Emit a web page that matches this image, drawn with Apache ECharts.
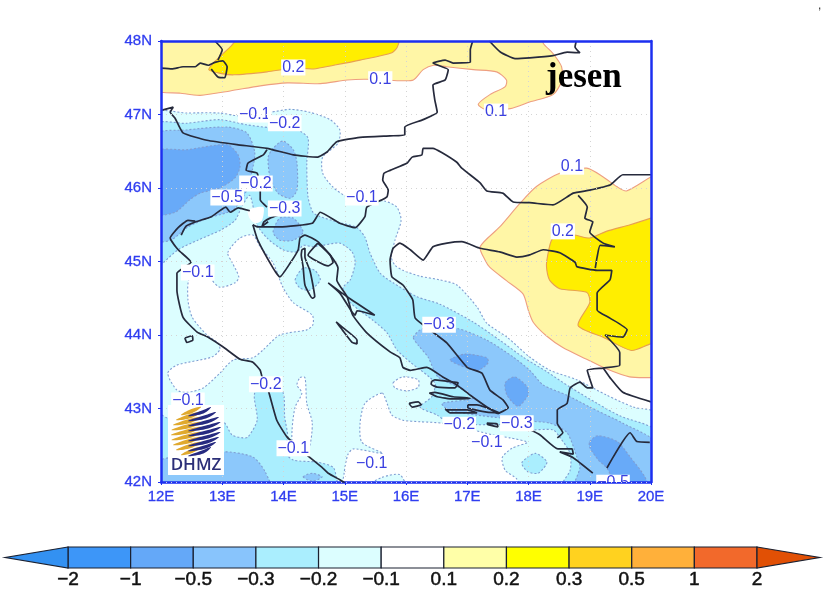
<!DOCTYPE html>
<html>
<head>
    <meta charset="utf-8" />
    <title>jesen</title>
    <script src="https://cdn.jsdelivr.net/npm/echarts@6/dist/echarts.min.js"></script>
    <style>
        html, body { margin: 0; padding: 0; background: #fff; }
        #chart1 { width: 824px; height: 594px; }
    </style>
</head>
<body>
    <div id="chart1"></div>
    <script type="text/javascript">
        // colour bar
        var barLabels = ['\u22122', '\u22121', '\u22120.5', '\u22120.3', '\u22120.2', '\u22120.1', '0.1', '0.2', '0.3', '0.5', '1', '2'];
        var barColors = ['#3d96f8', '#64a8f8', '#88c4fc', '#aaeefe', '#dcfeff', '#ffffff', '#ffffa8', '#ffff00', '#ffd21f', '#ffb03a', '#f2692b'];
        var tipColors = ['#3391f2', '#e15005'];

        // contour polygons, [lon, lat]
        var posTop1 = [[11.9,47.34],[12.32,47.29],[12.64,47.26],[13.13,47.32],[13.62,47.39],[14.06,47.43],[14.6,47.42],[15.04,47.47],[15.36,47.48],[15.9,47.46],[16.12,47.47],[16.28,47.61],[16.45,47.67],[16.66,47.65],[17.1,47.61],[17.48,47.58],[17.64,47.47],[17.62,47.38],[17.37,47.27],[17.18,47.14],[17.29,47.07],[17.7,47.08],[18.02,47.17],[18.4,47.27],[18.54,47.45],[18.54,47.65],[18.4,47.83],[18.24,47.97],[18.21,48.1],[11.9,48.1]];
        var posTop2 = [[12.78,47.61],[12.89,47.73],[13.13,47.92],[13.3,48.05],[15.88,48.05],[15.86,47.92],[15.77,47.84],[15.25,47.74],[14.82,47.67],[14.49,47.62],[14.17,47.63],[13.73,47.58],[13.19,47.54],[12.97,47.56]];
        var posEast1 = [[17.21,45.2],[17.53,45.47],[17.86,45.79],[18.13,46.02],[18.51,46.2],[18.95,46.27],[19.22,46.15],[19.44,46.02],[19.6,45.96],[20,46.15],[20.1,46.18],[20.1,43.42],[20,43.42],[19.65,43.43],[19.27,43.54],[18.95,43.67],[18.56,43.83],[18.29,43.99],[18.08,44.17],[18,44.33],[17.91,44.56],[17.64,44.74],[17.37,44.92],[17.29,45.02]];
        var posEast2 = [[20.1,45.62],[20,45.59],[19.66,45.5],[19.27,45.41],[19,45.32],[18.73,45.36],[18.4,45.32],[18.3,45.02],[18.3,44.88],[18.35,44.74],[18.51,44.63],[18.95,44.58],[19,44.44],[18.81,44.13],[19.22,43.97],[19.68,43.79],[20,43.88],[20.1,43.86]];

        var negOuter = [[11.9,47.01],[12.42,47.02],[12.96,47.02],[13.29,46.98],[13.78,47.03],[14.11,47.07],[14.43,47.03],[14.76,46.93],[14.92,46.79],[14.89,46.61],[14.64,46.42],[14.64,46.2],[14.81,46.01],[15.04,45.88],[15.36,45.84],[15.66,45.82],[15.85,45.74],[15.92,45.56],[15.82,45.29],[15.76,45.06],[15.82,44.95],[15.95,44.88],[16.23,44.8],[16.55,44.75],[16.83,44.68],[17.16,44.38],[17.32,44.16],[17.65,43.97],[18.02,43.7],[18.35,43.52],[18.79,43.39],[19.28,43.18],[19.71,43.02],[20.1,42.93],[20.1,41.9],[11.9,41.9]];
        var holeAdriatic = [[13.09,45.12],[13.29,45.32],[13.5,45.36],[13.62,45.2],[13.83,44.98],[13.99,44.65],[14.16,44.44],[14.47,44.27],[14.48,44.14],[14.38,44.07],[13.94,44],[13.67,43.8],[13.5,43.69],[13.18,43.66],[12.96,43.48],[12.69,43.28],[12.44,43.22],[12.26,43.25],[12.11,43.48],[12.26,43.59],[12.83,43.7],[12.96,43.8],[12.93,43.89],[12.75,44],[12.51,44.24],[12.44,44.48],[12.47,44.78],[12.8,44.83],[12.83,44.75],[12.96,44.65],[13.21,44.71],[13.27,44.79],[13.16,44.99]];
        var holeStrip = [[14.27,43.42],[14.35,43.42],[14.38,43.07],[14.47,42.8],[14.4,42.44],[14.16,42.48],[14.14,42.71],[14.19,43.02],[14.3,43.21],[14.22,43.32]];
        var holeSouth = [[15.61,43.21],[15.69,43.07],[15.77,42.91],[15.95,42.84],[16.23,42.82],[16.6,42.8],[17,42.73],[17.42,42.64],[17.7,42.6],[17.98,42.54],[17.73,42.46],[17.57,42.33],[17.62,42.16],[17.81,42.04],[17.86,41.9],[14.99,41.9],[14.99,42.12],[15.05,42.37],[15.14,42.45],[15.62,42.39],[15.28,42.54],[15.25,42.8],[15.33,43.07]];
        var holeOval = [[15.79,43.35],[15.95,43.43],[16.2,43.39],[16.2,43.29],[16.02,43.24],[15.82,43.28]];
        var stripBottom = [[15.28,41.9],[15.6,42.06],[15.9,42.1],[16,41.9]];

        var neg2North = [[11.9,46.86],[12.42,46.88],[12.96,46.93],[13.4,46.86],[13.78,46.82],[14.22,46.79],[14.4,46.68],[14.38,46.34],[14.4,45.88],[14.48,45.67],[14.6,45.61],[14.87,45.54],[15.2,45.46],[15.33,45.33],[15.41,45.12],[15.58,44.84],[15.79,44.71],[16.18,44.52],[16.55,44.42],[17.09,44.18],[17.53,43.93],[17.91,43.7],[18.3,43.5],[18.68,43.29],[19.12,43.07],[19.49,42.9],[20.1,42.68],[20.1,41.9],[18.56,41.9],[18.56,41.99],[18.68,42.16],[18.68,42.39],[18.51,42.61],[18.4,42.71],[17.98,42.71],[17.53,42.78],[17.16,42.78],[16.67,42.82],[16.51,42.91],[16.23,43.02],[16.42,43.16],[16.47,43.35],[16.07,43.63],[15.85,43.8],[15.69,44.03],[15.46,44.2],[15.09,44.44],[14.97,44.64],[15.09,44.75],[15.17,44.98],[15.12,45.13],[14.92,45.25],[14.64,45.22],[14.48,45.2],[14.32,45.22],[14.22,45.13],[13.99,45.16],[13.73,45.32],[13.57,45.5],[13.45,45.9],[13.31,45.73],[13.21,45.56],[12.98,45.43],[12.6,45.29],[12.28,45.16],[12.03,44.98],[11.9,44.9]];
        var neg2Pag = [[14.19,44.75],[14.32,44.91],[14.51,44.88],[14.6,44.75],[14.43,44.61],[14.27,44.64]];
        var neg2Blob = [[17.89,42.26],[18.11,42.39],[18.3,42.27],[18.16,42.12],[17.99,42.14]];
        var neg2South = [[11.9,42.95],[12.11,42.87],[13.01,42.82],[13.16,42.64],[13.34,42.6],[13.42,42.61],[13.57,42.84],[13.53,43.21],[13.78,43.28],[13.99,43.22],[14.02,42.88],[14.07,42.6],[13.99,42.44],[14.16,42.3],[14.55,42.27],[14.81,42.2],[14.87,42.03],[14.89,41.9],[11.9,41.9]];

        var neg3North = [[11.9,46.72],[12.42,46.79],[13.08,46.83],[13.4,46.75],[13.53,46.49],[13.49,46.24],[13.4,45.97],[13.31,45.84],[13.18,45.7],[13.06,45.66],[12.77,45.59],[12.44,45.47],[12.16,45.29],[11.9,45.29]];
        var neg3Friuli = [[13.75,46.42],[13.83,46.54],[13.99,46.64],[14.16,46.52],[14.22,46.34],[14.22,45.97],[14.11,45.86],[13.91,45.93],[13.78,46.15]];
        var neg3Kvarner = [[13.83,45.4],[13.94,45.59],[14.16,45.59],[14.32,45.4],[14.16,45.29],[13.94,45.29]];
        var neg3Dalmatia = [[16.12,43.97],[16.28,44.09],[16.83,44.09],[17.32,43.93],[17.75,43.7],[18.02,43.52],[18.24,43.32],[18.63,43.18],[19,43.02],[19.54,42.8],[20.1,42.52],[20.1,41.9],[18.76,41.9],[18.76,42],[18.84,42.2],[18.79,42.34],[18.63,42.67],[18.35,42.8],[17.98,42.83],[17.16,42.91],[16.69,42.98],[16.59,43.07],[17.09,43.14],[16.88,43.28],[16.52,43.43],[16.36,43.7],[16.2,43.86]];
        var neg3Corner = [[11.9,42.27],[13.01,42.41],[13.5,42.34],[13.7,42.14],[13.78,41.9],[11.9,41.9]];
        var neg3Small = [[14.32,42.07],[14.47,42.12],[14.63,42.07],[14.47,42.01]];

        var neg5North = [[11.9,46.49],[12.42,46.52],[13.08,46.59],[13.26,46.45],[13.29,46.29],[13.21,46.14],[12.96,46],[12.64,45.93],[12.47,45.84],[12.23,45.67],[11.9,45.65]];
        var neg5BlobA = [[16.72,43.66],[16.96,43.74],[17.32,43.69],[17.34,43.62],[17.18,43.52],[17,43.55]];
        var neg5BlobB = [[17.62,43.35],[17.78,43.43],[17.98,43.29],[17.99,43.18],[17.83,43.03],[17.65,43.18]];
        var neg5BlobC = [[19,42.55],[19.13,42.63],[19.45,42.55],[19.66,42.34],[19.9,42.07],[19.95,41.9],[19.49,41.9],[19.28,42.19],[19.14,42.3],[19,42.47]];
        var whiteIstria = [[13.42,45.7],[13.67,45.74],[13.65,45.56],[13.54,45.52],[13.45,45.58]];

        // coast and borders, [lon, lat]
        var lineBavaria = [[12,47.63],[12.18,47.62],[12.36,47.65],[12.56,47.65],[12.64,47.7],[12.77,47.67],[12.88,47.71],[13.01,47.73],[13.08,47.65],[13.04,47.5],[12.93,47.51],[12.82,47.62]];
        var lineInn = [[12.88,48],[13,47.88],[12.93,47.74]];
        var lineAustria = [[17.09,48],[17.05,47.88],[17.05,47.71],[16.77,47.7],[16.64,47.74],[16.44,47.7],[16.69,47.61],[16.64,47.47],[16.44,47.4],[16.47,47.2],[16.51,47.03],[16.28,46.93],[15.98,46.83],[15.98,46.72],[15.74,46.71],[15.25,46.69],[14.87,46.63],[14.71,46.49],[14.55,46.42],[14.16,46.45],[13.73,46.54],[13.24,46.59],[12.75,46.65],[12.36,46.75],[12.23,46.95],[12.15,47.03],[12.2,47.1],[12.02,47.06]];
        var lineSlovakia = [[17.36,48],[17.54,47.85],[17.78,47.76],[18.02,47.77],[18.4,47.8],[18.63,47.85],[18.84,47.84],[18.76,47.92],[18.78,48]];
        var lineDrava = [[20,46.18],[19.54,46.18],[19.33,46.04],[19,45.97],[18.73,45.93],[18.4,45.77],[18.02,45.8],[17.75,45.81],[17.58,45.93],[17.32,45.96],[17.21,46.07],[16.91,46.27],[16.83,46.35],[16.59,46.48],[16.44,46.54],[16.28,46.54],[16.26,46.45],[16.1,46.42],[16.02,46.34],[15.74,46.24],[15.64,46.2],[15.62,46.11],[15.71,45.97],[15.69,45.88],[15.61,45.84],[15.36,45.74],[15.33,45.61],[15.17,45.46],[14.92,45.52],[14.6,45.67],[14.47,45.52],[13.94,45.47],[13.58,45.47],[13.5,45.5]];
        var lineBosnia = [[17.5,42.93],[17.67,43.01],[17.58,43.12],[17.37,43.25],[17.24,43.48],[17,43.56],[16.67,43.89],[16.42,44.05],[16.15,44.23],[16.11,44.48],[15.95,44.68],[15.77,44.79],[15.74,45.02],[15.79,45.18],[15.9,45.25],[16.07,45.16],[16.28,45.02],[16.44,45.2],[16.67,45.25],[16.91,45.27],[17.21,45.18],[17.53,45.13],[17.81,45.06],[18.02,45.09],[18.24,45.16],[18.51,45.12],[18.76,44.99],[18.79,44.93],[19.12,44.88],[19.36,44.88],[19.33,44.75],[19.12,44.57],[19.12,44.34],[19.33,44.23],[19.61,44.07],[19.54,43.97],[19.25,44],[19.49,43.76],[19.49,43.59],[19.22,43.55],[18.96,43.52],[19.05,43.28],[18.96,43.28],[18.84,43.36],[18.68,43.28],[18.63,43.07],[18.47,42.98],[18.47,42.8],[18.56,42.67],[18.47,42.6]];
        var lineSerbia = [[18.81,45.9],[18.96,45.74],[18.92,45.59],[19.05,45.54],[19,45.4],[19.22,45.25],[19.41,45.2],[19.17,45.22],[19.12,45.06],[19.09,44.91]];
        var lineSerbiaSouth = [[19.22,43.55],[19.33,43.42],[19.54,43.22],[20,43.09]];
        var lineMontenegro = [[19.28,42.19],[19.66,42.67],[19.77,42.55],[19.98,42.54]];
        var lineCoastSouth = [[17.98,42.73],[18.19,42.64],[18.48,42.45],[18.71,42.45],[18.73,42.38],[18.51,42.41],[18.73,42.33],[19.05,42.12]];
        var lineItaly = [[13.45,45.69],[13.26,45.73],[13.13,45.67],[13.06,45.74],[12.82,45.61],[12.57,45.54],[12.41,45.48],[12.33,45.36]];
        var lineItalyEast = [[12.56,45.55],[12.44,45.56],[12.28,45.46],[12.15,45.32],[12.28,45.16],[12.49,44.99],[12.26,44.84],[12.26,44.61],[12.36,44.24],[12.59,44.04],[12.77,43.97],[13.01,43.84],[13.29,43.67],[13.5,43.63],[13.62,43.52],[13.65,43.43],[13.75,43.25],[13.89,42.84],[14.06,42.61],[14.35,42.39],[14.64,42.19],[14.73,42.12],[14.92,42.03],[15,41.99]];
        var lineSlovenia = [[13.73,46.52],[13.67,46.45],[13.42,46.34],[13.39,46.24],[13.57,46.2],[13.62,45.97],[13.62,45.84],[13.73,45.74]];
        var lineTrieste = [[13.91,45.63],[13.78,45.59],[13.68,45.54],[13.65,45.48],[13.75,45.54]];
        var lineCoastEast = [[13.5,45.5],[13.58,45.29],[13.83,44.91],[13.94,44.79],[14.11,44.98],[14.24,45.16],[14.27,45.32],[14.35,45.36],[14.56,45.27],[14.76,45.09],[14.89,44.91],[14.87,44.75],[15.04,44.52],[15.13,44.27],[15.36,44.03],[15.74,43.77],[15.9,43.69],[15.95,43.56],[16.07,43.52],[16.34,43.56],[16.6,43.43],[16.83,43.32],[17.05,43.18],[17.32,43.02],[17.5,42.93]];
        var isleCres = [[14.3,45.16],[14.35,45.18],[14.35,45.06],[14.43,44.88],[14.48,44.68],[14.51,44.52],[14.47,44.5],[14.35,44.68],[14.32,44.93],[14.29,45.09],[14.3,45.16]];
        var isleKrk = [[14.56,45.25],[14.4,45.09],[14.73,44.94],[14.81,44.99],[14.76,45.09],[14.56,45.25]];
        var islePag = [[14.73,44.71],[15.04,44.52],[15.49,44.27],[15.2,44.33],[15.17,44.27],[15.12,44.31],[14.92,44.57],[14.73,44.71]];
        var isleDugi = [[14.86,44.18],[14.97,44.1],[15.2,43.93],[15.2,43.88],[15.12,43.9],[14.96,44.07],[14.86,44.18]];
        var isleBrac = [[16.42,43.37],[16.47,43.39],[16.77,43.36],[16.85,43.35],[16.8,43.28],[16.51,43.29],[16.41,43.33],[16.42,43.37]];
        var isleHvar = [[16.38,43.21],[16.47,43.22],[16.77,43.16],[17.05,43.14],[16.77,43.13],[16.51,43.16],[16.38,43.21]];
        var isleVis = [[16.05,43.07],[16.2,43.09],[16.25,43.05],[16.1,43.02],[16.05,43.07]];
        var isleKorcula = [[16.64,42.99],[16.72,42.94],[17.16,42.94],[17,42.98],[16.69,42.98],[16.64,42.99]];
        var islePeljesac = [[17.01,43.05],[17.16,43.05],[17.53,42.94],[17.32,42.95],[17.01,43.01],[17.01,43.05]];
        var isleMljet = [[17.32,42.8],[17.49,42.79],[17.5,42.75],[17.34,42.78],[17.32,42.8]];
        var isleElafiti = [[17.67,42.72],[17.75,42.71]];
        var islePalagruza = [[12.39,43.96],[12.51,43.99],[12.52,43.93],[12.42,43.9],[12.39,43.96]];

        // contour labels
        var labelLons = [14.16, 15.58, 17.47, 18.71, 18.56, 13.53, 14.02, 13.55, 13.08, 14.02, 15.28, 12.6, 16.54, 13.71, 12.44, 14.16, 15.44, 16.87, 17.81, 17.32, 19.38];
        var labelLats = [47.64, 47.48, 47.04, 46.29, 45.41, 47.0, 46.88, 46.06, 45.87, 45.72, 45.87, 44.85, 44.14, 43.33, 43.11, 42.46, 42.25, 42.78, 42.8, 42.53, 41.99];
        var labelTexts = ['0.2', '0.1', '0.1', '0.1', '0.2', '\u22120.1', '\u22120.2', '\u22120.2', '\u22120.5', '\u22120.3', '\u22120.1', '\u22120.1', '\u22120.3', '\u22120.2', '\u22120.1', '\u22120.1', '\u22120.1', '\u22120.2', '\u22120.3', '\u22120.1', '\u22120.5'];

        var lonMin = 12, lonMax = 20, latMin = 42, latMax = 48;
        var blue = '#1c2ff0';
        var dashColor = '#7f9dd2';
        var posColor = '#ee9f80';

        // painter order, outermost band first
        var layers = [
            { polys: [posTop1, posEast1], fill: '#fff6a6', stroke: posColor, dash: null },
            { polys: [posTop2, posEast2], fill: '#ffee00', stroke: '#e8a050', dash: null },
            { polys: [negOuter], fill: '#dcfeff', stroke: dashColor, dash: [2, 2] },
            { polys: [holeAdriatic, holeStrip, holeSouth, holeOval], fill: '#ffffff', stroke: dashColor, dash: [2, 2] },
            { polys: [stripBottom], fill: '#dcfeff', stroke: dashColor, dash: [2, 2] },
            { polys: [neg2North, neg2Pag, neg2Blob, neg2South], fill: '#aaeefe', stroke: dashColor, dash: [2, 2] },
            { polys: [neg3North, neg3Friuli, neg3Kvarner, neg3Dalmatia, neg3Corner, neg3Small], fill: '#8cc8fb', stroke: dashColor, dash: [2, 2] },
            { polys: [neg5North, neg5BlobA, neg5BlobB, neg5BlobC], fill: '#68aaf8', stroke: dashColor, dash: [2, 2] },
            { polys: [whiteIstria], fill: '#ffffff', stroke: null, dash: null }
        ];
        var lines = [lineBavaria, lineInn, lineAustria, lineSlovakia, lineDrava, lineBosnia, lineSerbia, lineSerbiaSouth, lineMontenegro, lineCoastSouth, lineItaly, lineItalyEast, lineSlovenia, lineTrieste, lineCoastEast, isleCres, isleKrk, islePag, isleDugi, isleBrac, isleHvar, isleVis, isleKorcula, islePeljesac, isleMljet, isleElafiti, islePalagruza];

        var series = [];
        layers.forEach(function (layer) {
            series.push({
                type: 'custom',
                coordinateSystem: 'cartesian2d',
                xAxisIndex: 0,
                yAxisIndex: 0,
                clip: true,
                silent: true,
                z: 2,
                data: layer.polys.map(function (p, i) { return [i]; }),
                renderItem: function (params, api) {
                    var pts = layer.polys[params.dataIndex].map(function (p) { return api.coord(p); });
                    return {
                        type: 'polygon',
                        shape: { points: pts, smooth: 0.25 },
                        style: { fill: layer.fill, stroke: layer.stroke, lineWidth: 1.1, lineDash: layer.dash }
                    };
                }
            });
        });
        lines.forEach(function (l) {
            series.push({
                type: 'line',
                xAxisIndex: 0,
                yAxisIndex: 0,
                data: l,
                showSymbol: false,
                smooth: 0.15,
                silent: true,
                z: 5,
                lineStyle: { color: '#262a3c', width: 1.7 }
            });
        });
        // contour labels, clipped at the frame
        series.push({
            type: 'custom',
            coordinateSystem: 'cartesian2d',
            xAxisIndex: 0,
            yAxisIndex: 0,
            clip: true,
            silent: true,
            z: 6,
            data: labelTexts.map(function (t, i) { return [labelLons[i], labelLats[i]]; }),
            renderItem: function (params, api) {
                var c = api.coord([api.value(0), api.value(1)]);
                return {
                    type: 'text',
                    x: c[0],
                    y: c[1],
                    style: {
                        text: labelTexts[params.dataIndex],
                        fill: '#3a3fe0',
                        font: '16px "Liberation Sans"',
                        align: 'center',
                        verticalAlign: 'middle',
                        backgroundColor: '#fff',
                        padding: [0, 1]
                    }
                };
            }
        });
        // colour bar cells and end triangles
        series.push({
            type: 'custom',
            coordinateSystem: 'cartesian2d',
            xAxisIndex: 2,
            yAxisIndex: 2,
            silent: true,
            data: barColors.map(function (c, i) { return [i]; }),
            renderItem: function (params, api) {
                var i = params.dataIndex;
                var a = api.coord([i, 1]), b = api.coord([i + 1, 0]);
                return {
                    type: 'rect',
                    shape: { x: a[0], y: a[1], width: b[0] - a[0], height: b[1] - a[1] },
                    style: { fill: barColors[i], stroke: '#1a2030', lineWidth: 1.2 }
                };
            }
        });
        series.push({
            type: 'custom',
            coordinateSystem: 'cartesian2d',
            xAxisIndex: 2,
            yAxisIndex: 2,
            silent: true,
            data: [[0, -1], [11, 12]],
            renderItem: function (params, api) {
                return {
                    type: 'polygon',
                    shape: { points: [api.coord([api.value(0), 1]), api.coord([api.value(1), 0.5]), api.coord([api.value(0), 0])] },
                    style: { fill: tipColors[params.dataIndex], stroke: '#1a2030', lineWidth: 1.2 }
                };
            }
        });

        // DHMZ logo
        var logo = [
            { type: 'rect', z: 20, shape: { x: 168, y: 405, width: 56, height: 70 }, style: { fill: '#fff' } },
            { type: 'text', z: 21, x: 196, y: 465, style: { text: 'DHMZ', fill: '#2c2f78', font: '600 17px "Open Sans"', align: 'center', verticalAlign: 'middle' } }
        ];
        var cx = 196, cy = 431, r = 25;
        for (var k = -4; k <= 4; k++) {
            var y0 = cy + k * 5;
            var half = Math.sqrt(Math.max(r * r - (k * 5) * (k * 5), 60));
            var xl = cx - half, xr = cx + half;
            logo.push({
                type: 'polygon', z: 21,
                shape: { points: [[xl, y0 + 4], [cx - half * 0.3, y0 - 2], [cx + 5, y0 - 4], [cx - half * 0.25, y0 + 2]], smooth: 0.4 },
                style: { fill: '#e0a92e' }
            });
            logo.push({
                type: 'polygon', z: 22,
                shape: { points: [[cx - 8, y0 + 5], [cx + half * 0.4, y0 - 0.5], [xr, y0 - 4], [cx + half * 0.5, y0 + 2.5]], smooth: 0.4 },
                style: { fill: '#262a80' }
            });
        }

        var axisFont = { color: '#2f3df0', fontFamily: 'Liberation Sans', fontSize: 15, textBorderColor: '#2f3df0', textBorderWidth: 0.3 };
        var frameLine = { show: true, onZero: false, lineStyle: { color: blue, width: 2.5 } };
        var gridDots = { show: true, lineStyle: { color: '#d4d4d4', type: [1, 4], width: 1 } };

        var myChart1 = echarts.init(document.getElementById('chart1'));
        var option = {
            animation: false,
            backgroundColor: '#fff',
            grid: [
                { left: 161, top: 41, width: 490, height: 441 },
                { left: 68, top: 547, width: 689, height: 21 }
            ],
            xAxis: [
                {
                    type: 'value', gridIndex: 0, position: 'bottom', min: lonMin, max: lonMax, interval: 1, z: 4,
                    axisLine: frameLine, axisTick: { show: true, length: 3, lineStyle: { color: blue } }, splitLine: gridDots,
                    axisLabel: Object.assign({ margin: 7, formatter: function (v) { return v + 'E'; } }, axisFont)
                },
                {
                    type: 'value', gridIndex: 0, position: 'top', min: lonMin, max: lonMax, interval: 1, z: 10,
                    axisLine: frameLine, axisTick: { show: false }, splitLine: { show: false }, axisLabel: { show: false }
                },
                {
                    type: 'value', gridIndex: 1, position: 'bottom', min: 0, max: 11, interval: 1,
                    axisLine: { show: false }, axisTick: { show: false }, splitLine: { show: false },
                    axisLabel: {
                        margin: 2, color: '#111', fontFamily: 'Liberation Sans', fontSize: 19,
                        textBorderColor: '#111', textBorderWidth: 0.5,
                        formatter: function (v) { return barLabels[v]; }
                    }
                }
            ],
            yAxis: [
                {
                    type: 'value', gridIndex: 0, position: 'left', min: latMin, max: latMax, interval: 1, z: 10,
                    axisLine: frameLine, axisTick: { show: true, length: 3, lineStyle: { color: blue } }, splitLine: gridDots,
                    axisLabel: Object.assign({ margin: 9, formatter: function (v) { return v + 'N'; } }, axisFont)
                },
                {
                    type: 'value', gridIndex: 0, position: 'right', min: latMin, max: latMax, interval: 1, z: 10,
                    axisLine: frameLine, axisTick: { show: false }, splitLine: { show: false }, axisLabel: { show: false }
                },
                {
                    type: 'value', gridIndex: 1, min: 0, max: 1, show: false
                }
            ],
            graphic: logo.concat([
                { type: 'text', z: 30, x: 546, y: 78, style: { text: 'jesen', fill: '#000', font: 'bold 35px "Liberation Serif"', verticalAlign: 'middle' } },
                { type: 'text', z: 30, x: 818, y: 0, style: { text: ',', fill: '#333', font: '12px "Liberation Sans"' } }
            ]),
            series: series
        };
        myChart1.setOption(option);
    </script>
</body>
</html>
